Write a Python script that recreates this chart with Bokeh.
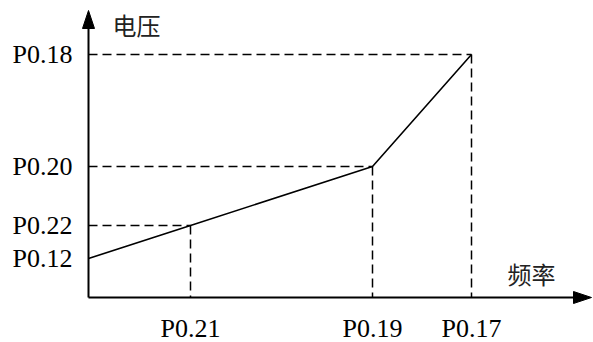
from bokeh.plotting import figure
from bokeh.models import Range1d
from bokeh.core.properties import value
from bokeh.embed import file_html
from bokeh.resources import INLINE

# Data (schematic units)
freq_labels = ["P0.21", "P0.19", "P0.17"]
volt_labels = ["P0.12", "P0.22", "P0.20", "P0.18"]
freq_x = [0, 102, 284, 383]
volt_y = [39, 72, 131, 243]
x_title = "频率"
y_title = "电压"

W, H = 593, 342
p = figure(width=W, height=H, output_backend="svg", toolbar_location=None,
           x_axis_type=None, y_axis_type=None, min_border=0,
           x_range=Range1d(-88, -88 + W), y_range=Range1d(297 - H, 297))
p.grid.visible = False
p.outline_line_color = None
p.background_fill_color = "white"
p.border_fill_color = "white"

serif = value("Liberation Serif")
cjk = value("Noto Sans CJK SC")

# axes with arrows
x_end = 503
y_end = 287
head_len, head_w = 18, 6
p.segment(x0=[0, 0], y0=[0, 0], x1=[x_end - head_len + 2, 0], y1=[0, y_end - head_len + 2],
          line_color="black", line_width=2)
p.patch(x=[x_end, x_end - head_len, x_end - head_len], y=[0, head_w, -head_w],
        fill_color="black", line_color="black", line_width=1)
p.patch(x=[0, -head_w, head_w], y=[y_end, y_end - head_len, y_end - head_len],
        fill_color="black", line_color="black", line_width=1)

# dashed guide lines
hx0, hy0, hx1, hy1 = [], [], [], []
for xv, yv in zip(freq_x[1:], volt_y[1:]):
    hx0 += [0, xv]
    hy0 += [yv, yv]
    hx1 += [xv, xv]
    hy1 += [yv, 0]
p.segment(x0=hx0, y0=hy0, x1=hx1, y1=hy1, line_color="black", line_width=1.5,
          line_dash="9 5")

# main polyline
p.line(freq_x, volt_y, line_color="black", line_width=1.6)

# tick labels
p.text(x=[-16] * len(volt_labels), y=volt_y, text=volt_labels, text_font=serif,
       text_font_size="26px", text_align="right", text_baseline="middle", text_color="black")
p.text(x=freq_x[1:], y=[-31] * len(freq_labels), text=freq_labels, text_font=serif,
       text_font_size="26px", text_align="center", text_baseline="middle", text_color="black")

# axis titles
p.text(x=[24], y=[273], text=[y_title], text_font=cjk, text_font_size="24px",
       text_align="left", text_baseline="middle", text_color="#222222")
p.text(x=[419], y=[24], text=[x_title], text_font=cjk, text_font_size="24px",
       text_align="left", text_baseline="middle", text_color="#222222")

open("out.html", "w").write(file_html(p, INLINE))
